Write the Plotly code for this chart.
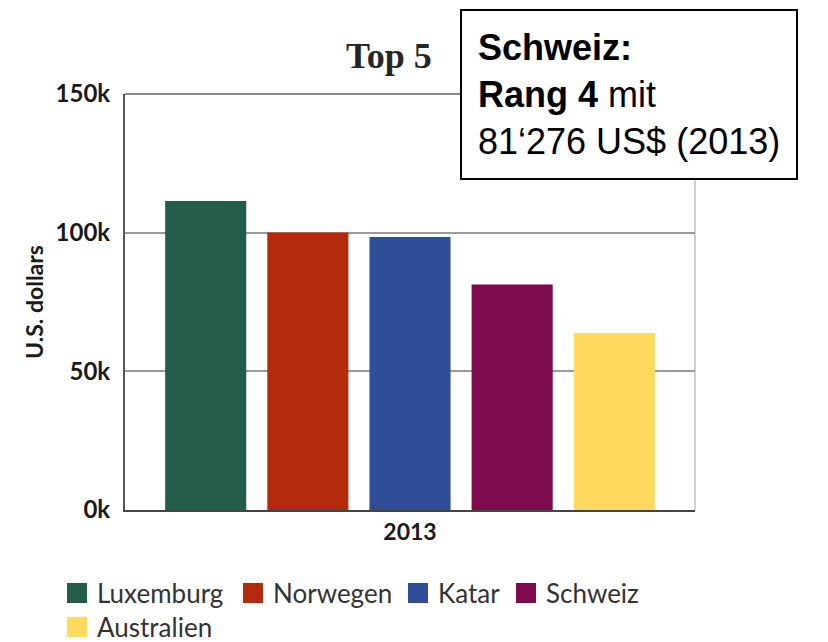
import plotly.graph_objects as go

# ---- data ----
year = ["2013"]
countries = ["Luxemburg", "Norwegen", "Katar", "Schweiz", "Australien"]
gdp_per_capita = [111400, 100100, 98400, 81276, 63800]
colors = ["#235C4A", "#B32B0C", "#2F4E97", "#7D0B4E", "#FDDA5E"]
y_tickvals = [0, 50000, 100000, 150000]
y_ticktext = ["0k", "50k", "100k", "150k"]

W, H = 828, 642
L, R, T, B = 125, 133, 94, 132
PW = W - L - R
PH = H - T - B


def px_x(px):
    return (px - L) / PW


def px_y(py):
    return (H - B - py) / PH


fig = go.Figure()
for name, val, col in zip(countries, gdp_per_capita, colors):
    fig.add_trace(go.Bar(x=year, y=[val], name=name, showlegend=False,
                         marker=dict(color=col, line=dict(width=0))))

font_main = "Lato, 'Open Sans', sans-serif"

fig.update_layout(
    width=W, height=H,
    margin=dict(l=L, r=R, t=T, b=B, autoexpand=False),
    paper_bgcolor="white", plot_bgcolor="white",
    barmode="group", bargap=0.104, bargroupgap=0.206,
    showlegend=False,
    xaxis=dict(
        type="category", showgrid=False, showline=True, linecolor="#444444", linewidth=2,
        ticks="", tickfont=dict(family=font_main, size=23, color="#1a1a1a", weight="bold"),
        fixedrange=True,
    ),
    yaxis=dict(
        range=[0, 150000], tickvals=y_tickvals, ticktext=y_ticktext,
        showgrid=True, gridcolor="#9a9a9a", gridwidth=2,
        showline=True, linecolor="#555555", linewidth=2, zeroline=False,
        ticks="", ticklabelstandoff=8,
        tickfont=dict(family=font_main, size=24, color="#1a1a1a", weight="bold"),
        title=dict(text="U.S. dollars", standoff=6,
                   font=dict(family=font_main, size=23, color="#1a1a1a", weight="bold")),
        fixedrange=True,
    ),
)

# top frame line at 150k and right frame line
fig.add_shape(type="line", xref="paper", yref="paper", x0=0, x1=1, y0=1, y1=1,
              line=dict(color="#8a8a8a", width=2), layer="below")
fig.add_shape(type="line", xref="paper", yref="paper", x0=1, x1=1, y0=0, y1=1,
              line=dict(color="#d0d0d0", width=2), layer="below")

# title
fig.add_annotation(text="Top 5", xref="paper", yref="paper", x=px_x(389), y=px_y(56),
                   xanchor="center", yanchor="middle", showarrow=False,
                   font=dict(family="'Liberation Serif', serif", size=36, color="#262626", weight="bold"))

# info box
fig.add_annotation(
    text="<b>Schweiz:</b><br><b>Rang 4</b> mit<br>81‘276 US$ (2013)",
    xref="paper", yref="paper", x=px_x(460), y=px_y(9), xanchor="left", yanchor="top",
    align="left", showarrow=False, bgcolor="white", bordercolor="black", borderwidth=2,
    borderpad=16,
    font=dict(family="'Liberation Sans', Arial, sans-serif", size=36, color="black"),
)

# custom legend (large square swatches, wrapping like the reference)
legend_left = [67, 243, 408, 516, 67]
legend_mid = [593, 593, 593, 593, 627]
sw = 20
for name, col, lx, ly in zip(countries, colors, legend_left, legend_mid):
    fig.add_shape(type="rect", xref="paper", yref="paper",
                  x0=px_x(lx), x1=px_x(lx + sw), y0=px_y(ly - sw / 2), y1=px_y(ly + sw / 2),
                  fillcolor=col, line=dict(width=0))
    fig.add_annotation(text=name, xref="paper", yref="paper", x=px_x(lx + sw + 8), y=px_y(ly),
                       xanchor="left", yanchor="middle", showarrow=False,
                       font=dict(family=font_main, size=26, color="#333333"))

fig.write_html("out.html")
